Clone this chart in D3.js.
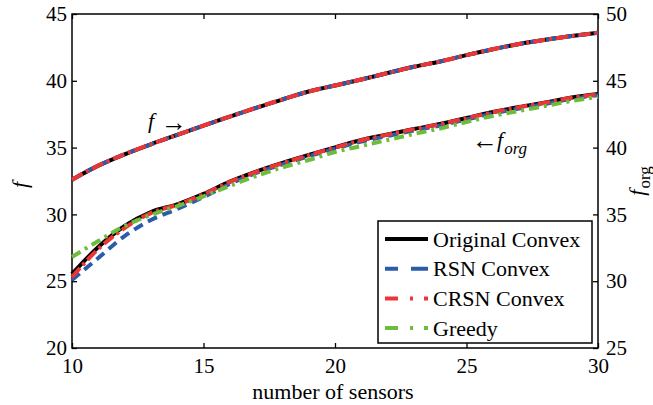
<!DOCTYPE html>
<html>
<head>
<meta charset="utf-8">
<script src="https://cdn.jsdelivr.net/npm/d3@7"></script>
<style>
  body { margin: 0; background: #fff; }
</style>
</head>
<body>
<div id="chart"></div>
<script>
const serif = "'Liberation Serif', 'Times New Roman', 'DejaVu Serif', serif";

// number of sensors
const sensors = d3.range(10, 31);

// upper curves, f (left axis)
const fOriginal = [32.6, 33.65, 34.5, 35.25, 35.95, 36.65, 37.32, 37.98, 38.6, 39.2, 39.65, 40.1, 40.58, 41.05, 41.45, 41.92, 42.36, 42.75, 43.07, 43.35, 43.6];
const fRSN      = [32.6, 33.65, 34.5, 35.25, 35.95, 36.65, 37.32, 37.98, 38.6, 39.2, 39.65, 40.1, 40.58, 41.05, 41.45, 41.92, 42.36, 42.75, 43.07, 43.35, 43.6];
const fCRSN     = [32.6, 33.65, 34.5, 35.25, 35.95, 36.65, 37.32, 37.98, 38.6, 39.2, 39.65, 40.1, 40.58, 41.05, 41.45, 41.92, 42.36, 42.75, 43.07, 43.35, 43.6];

// lower curves, f_org (right axis)
const orgOriginal = [30.54, 32.56, 34.13, 35.18, 35.75, 36.53, 37.45, 38.2, 38.85, 39.45, 40.02, 40.57, 40.98, 41.39, 41.77, 42.22, 42.66, 43.04, 43.38, 43.75, 44.01];
const orgRSN      = [30.09, 31.74, 33.38, 34.58, 35.4, 36.3, 37.28, 38.1, 38.75, 39.35, 39.92, 40.45, 40.87, 41.28, 41.66, 42.1, 42.55, 42.93, 43.27, 43.65, 43.93];
const orgCRSN     = [30.31, 32.41, 33.98, 35.1, 35.72, 36.5, 37.43, 38.18, 38.83, 39.43, 40.0, 40.55, 40.97, 41.38, 41.76, 42.2, 42.64, 43.02, 43.36, 43.73, 43.98];
const orgGreedy   = [31.81, 33.01, 34.13, 34.96, 35.62, 36.35, 37.13, 37.87, 38.52, 39.07, 39.67, 40.12, 40.57, 41.02, 41.43, 41.92, 42.37, 42.74, 43.11, 43.49, 43.79];

const xTicks = [10, 15, 20, 25, 30];
const yLeftTicks = [20, 25, 30, 35, 40, 45];
const yRightTicks = [25, 30, 35, 40, 45, 50];

const legendNames = ["Original Convex", "RSN Convex", "CRSN Convex", "Greedy"];

const width = 653, height = 405;
const margin = { top: 14, right: 55, bottom: 57, left: 72 };

const svg = d3.select("#chart").append("svg")
  .attr("width", width)
  .attr("height", height)
  .attr("font-family", serif);

const x = d3.scaleLinear().domain([10, 30]).range([margin.left, width - margin.right]);
const yL = d3.scaleLinear().domain([20, 45]).range([height - margin.bottom, margin.top]);
const yR = d3.scaleLinear().domain([25, 50]).range([height - margin.bottom, margin.top]);

// styles per method
const styles = {
  original: { color: "#000000", dash: null, legendDash: null },
  rsn: { color: "#2a5cab", dash: "10,6", legendDash: "13,13,17,20" },
  crsn: { color: "#ee3535", dash: "12,4,3,4", legendDash: "13,12,3,11,4,40" },
  greedy: { color: "#6cbd3c", dash: "10,5,3,5", legendDash: "13,12,3,11,4,40" }
};

// axes (ticks point inward)
function styleAxis(g) {
  g.select(".domain").remove();
  g.attr("font-family", serif).attr("font-size", 21);
  g.selectAll(".tick line").attr("stroke", "#000").attr("stroke-width", 1.3);
  g.selectAll(".tick text").attr("fill", "#000").style("font-family", serif);
}

svg.append("g")
  .attr("transform", `translate(0,${yL.range()[0]})`)
  .call(d3.axisBottom(x).tickValues(xTicks).tickSize(-5).tickPadding(10))
  .call(styleAxis);

svg.append("g")
  .attr("transform", `translate(0,${margin.top})`)
  .call(d3.axisTop(x).tickValues(xTicks).tickSize(-5).tickFormat(""))
  .call(styleAxis);

svg.append("g")
  .attr("transform", `translate(${margin.left},0)`)
  .call(d3.axisLeft(yL).tickValues(yLeftTicks).tickSize(-5).tickPadding(5))
  .call(styleAxis);

svg.append("g")
  .attr("transform", `translate(${x.range()[1]},0)`)
  .call(d3.axisRight(yR).tickValues(yRightTicks).tickSize(-5).tickPadding(8))
  .call(styleAxis);

// plot box
svg.append("rect")
  .attr("x", x.range()[0])
  .attr("y", margin.top)
  .attr("width", x.range()[1] - x.range()[0])
  .attr("height", yL.range()[0] - margin.top)
  .attr("fill", "none")
  .attr("stroke", "#000")
  .attr("stroke-width", 1.5);

// curves
const lineL = d3.line().x((d, i) => x(sensors[i])).y(d => yL(d)).curve(d3.curveMonotoneX);
const lineR = d3.line().x((d, i) => x(sensors[i])).y(d => yR(d)).curve(d3.curveMonotoneX);

const series = [
  { values: fOriginal, line: lineL, style: styles.original },
  { values: orgOriginal, line: lineR, style: styles.original },
  { values: fRSN, line: lineL, style: styles.rsn },
  { values: orgRSN, line: lineR, style: styles.rsn },
  { values: fCRSN, line: lineL, style: styles.crsn },
  { values: orgCRSN, line: lineR, style: styles.crsn },
  { values: orgGreedy, line: lineR, style: styles.greedy }
];

svg.append("g")
  .selectAll("path")
  .data(series)
  .join("path")
  .attr("d", d => d.line(d.values))
  .attr("fill", "none")
  .attr("stroke", d => d.style.color)
  .attr("stroke-width", 4)
  .attr("stroke-dasharray", d => d.style.dash);

// curve annotations
svg.append("text")
  .attr("x", 148)
  .attr("y", 128)
  .attr("font-size", 22)
  .attr("font-style", "italic")
  .text("f");
svg.append("text")
  .attr("x", 161)
  .attr("y", 131)
  .attr("font-size", 26)
  .text("\u2192");

svg.append("text")
  .attr("x", 472)
  .attr("y", 149)
  .attr("font-size", 26)
  .text("\u2190");
const ann2 = svg.append("text")
  .attr("x", 497)
  .attr("y", 147)
  .attr("font-size", 22)
  .attr("font-style", "italic");
ann2.append("tspan").text("f");
ann2.append("tspan").attr("font-size", 17).attr("dy", 7).attr("dx", 1).text("org");

// axis labels
svg.append("text")
  .attr("x", 333)
  .attr("y", 399)
  .attr("text-anchor", "middle")
  .attr("font-size", 22)
  .text("number of sensors");

svg.append("text")
  .attr("transform", "translate(27,185) rotate(-90)")
  .attr("text-anchor", "middle")
  .attr("font-size", 22)
  .attr("font-style", "italic")
  .text("f");

const rl = svg.append("text")
  .attr("transform", "translate(644,181) rotate(-90)")
  .attr("text-anchor", "middle")
  .attr("font-size", 22);
rl.append("tspan").attr("font-style", "italic").text("f");
rl.append("tspan").attr("font-size", 17).attr("dy", 6).attr("dx", 1).text("org");

// legend
const legend = svg.append("g").attr("transform", "translate(378,221)");
legend.append("rect")
  .attr("width", 214)
  .attr("height", 122)
  .attr("fill", "#fff")
  .attr("stroke", "#000")
  .attr("stroke-width", 1.5);

const legendStyles = [styles.original, styles.rsn, styles.crsn, styles.greedy];
const rows = legend.selectAll("g.row")
  .data(legendNames)
  .join("g")
  .attr("class", "row")
  .attr("transform", (d, i) => `translate(0,${18 + i * 29.7})`);

rows.append("line")
  .attr("x1", 7)
  .attr("x2", 50)
  .attr("stroke", (d, i) => legendStyles[i].color)
  .attr("stroke-width", 4)
  .attr("stroke-dasharray", (d, i) => legendStyles[i].legendDash);

rows.append("text")
  .attr("x", 55)
  .attr("y", 7.5)
  .attr("font-size", 22)
  .text(d => d);
</script>
</body>
</html>
